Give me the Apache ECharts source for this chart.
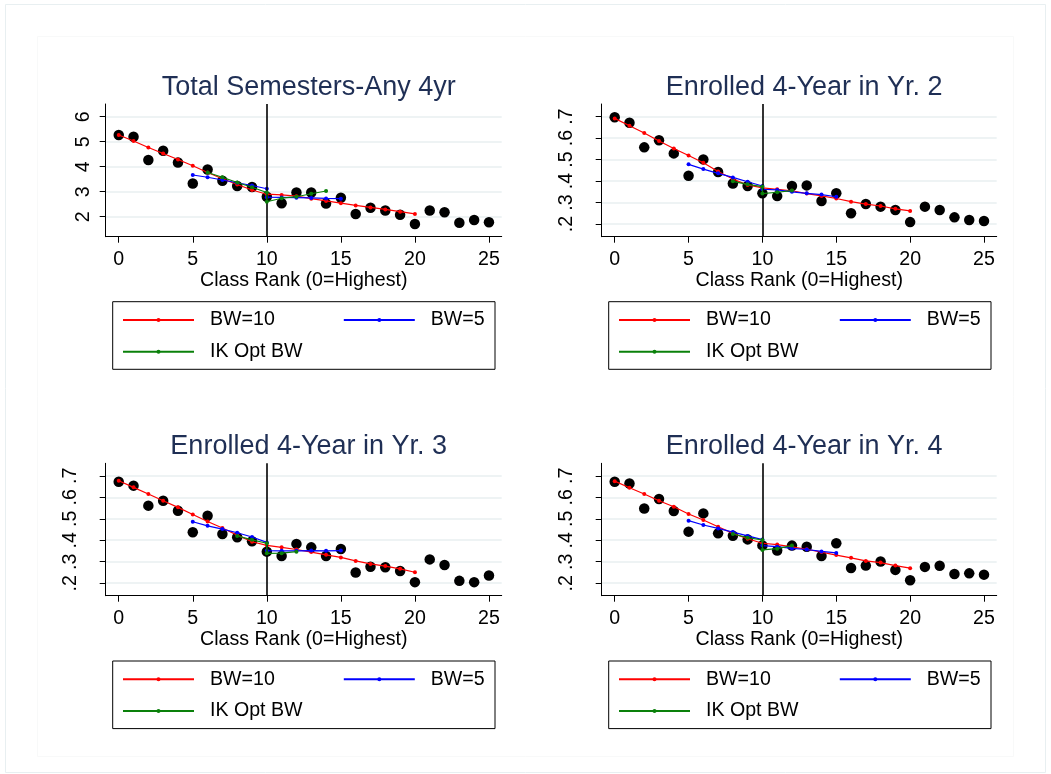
<!DOCTYPE html>
<html>
<head>
<meta charset="utf-8">
<script src="https://cdn.jsdelivr.net/npm/echarts@6/dist/echarts.min.js"></script>
<style>
html,body{margin:0;padding:0;background:#fff;}
#chart{width:1051px;height:774px;}
</style>
</head>
<body>
<div id="chart"></div>
<script>
// ---------- data ----------
const titles = ['Total Semesters-Any 4yr', 'Enrolled 4-Year in Yr. 2', 'Enrolled 4-Year in Yr. 3', 'Enrolled 4-Year in Yr. 4'];
const xAxisTitle = 'Class Rank (0=Highest)';
const xTicks = [0, 5, 10, 15, 20, 25];
const yTicksSem = [2, 3, 4, 5, 6];
const yTicksEnroll = [0.2, 0.3, 0.4, 0.5, 0.6, 0.7];
const cutoff = 10;

const rank = [0,1,2,3,4,5,6,7,8,9,10,11,12,13,14,15,16,17,18,19,20,21,22,23,24,25];
const bw10X = [0,1,2,3,4,5,6,7,8,9,10,11,12,13,14,15,16,17,18,19,20];
const bw5X = [5,6,7,8,9,10,10,11,12,13,14,15];
const ikXSem = [6,7,8,9,10,10,11,12,13,14];
const ikXEnroll = [8,9,10,10,11,12];

// Panel 1: Total Semesters-Any 4yr
const semDots = [5.27,5.2,4.27,4.64,4.17,3.33,3.89,3.44,3.23,3.19,2.8,2.54,2.97,2.97,2.53,2.76,2.11,2.36,2.25,2.08,1.71,2.25,2.18,1.76,1.87,1.78];
const semBW10 = [5.27,5.03,4.77,4.53,4.29,4.04,3.77,3.52,3.29,3.07,2.9,2.87,2.82,2.72,2.63,2.54,2.45,2.37,2.29,2.2,2.11];
const semBW5 = [3.67,3.58,3.47,3.36,3.25,3.12,2.78,2.77,2.76,2.75,2.73,2.72];
const semIK = [3.77,3.58,3.37,3.18,2.97,2.6,2.74,2.8,2.92,3.03];

// Panel 2: Enrolled Yr. 2
const yr2Dots = [0.697,0.672,0.557,0.59,0.529,0.425,0.501,0.442,0.389,0.377,0.343,0.33,0.377,0.38,0.307,0.343,0.25,0.293,0.281,0.265,0.209,0.281,0.265,0.231,0.219,0.214];
const yr2BW10 = [0.692,0.658,0.624,0.587,0.552,0.519,0.485,0.445,0.41,0.382,0.368,0.362,0.355,0.342,0.331,0.319,0.304,0.293,0.284,0.271,0.261];
const yr2BW5 = [0.478,0.456,0.436,0.417,0.397,0.377,0.362,0.359,0.35,0.343,0.337,0.327];
const yr2IK = [0.399,0.385,0.374,0.342,0.348,0.356];

// Panel 3: Enrolled Yr. 3
const yr3Dots = [0.672,0.654,0.561,0.584,0.537,0.437,0.514,0.429,0.414,0.395,0.347,0.327,0.383,0.367,0.327,0.359,0.25,0.277,0.274,0.257,0.205,0.311,0.285,0.211,0.205,0.236];
const yr3BW10 = [0.677,0.646,0.615,0.584,0.553,0.52,0.487,0.457,0.424,0.393,0.376,0.367,0.357,0.345,0.332,0.32,0.304,0.29,0.28,0.267,0.251];
const yr3BW5 = [0.486,0.467,0.452,0.435,0.415,0.39,0.352,0.351,0.351,0.352,0.351,0.352];
const yr3IK = [0.42,0.402,0.386,0.339,0.34,0.347];

// Panel 4: Enrolled Yr. 4
const yr4Dots = [0.672,0.664,0.548,0.592,0.536,0.44,0.525,0.432,0.421,0.404,0.376,0.352,0.375,0.37,0.327,0.386,0.271,0.282,0.301,0.262,0.214,0.276,0.281,0.243,0.246,0.24];
const yr4BW10 = [0.675,0.644,0.615,0.584,0.556,0.522,0.494,0.463,0.432,0.407,0.386,0.38,0.369,0.358,0.345,0.331,0.318,0.304,0.296,0.282,0.27];
const yr4BW5 = [0.491,0.471,0.455,0.438,0.42,0.403,0.375,0.37,0.362,0.357,0.348,0.341];
const yr4IK = [0.429,0.412,0.401,0.355,0.361,0.375];

// ---------- layout ----------
const FONT = 'Liberation Sans, Arial, sans-serif';
const FS = 19.6;
const panels = [
  {title: titles[0], left: 105.7, top: 104,   width: 396, height: 132.7, ymin: 1.2,   ymax: 6.51,  ticks: yTicksSem,    margin: 12, dots: semDots, bw10: semBW10, bw5: semBW5, ikX: ikXSem,    ik: semIK},
  {title: titles[1], left: 601.7, top: 104,   width: 395, height: 132.7, ymin: 0.141, ymax: 0.759, ticks: yTicksEnroll, margin: 25, dots: yr2Dots, bw10: yr2BW10, bw5: yr2BW5, ikX: ikXEnroll, ik: yr2IK},
  {title: titles[2], left: 105.7, top: 463.3, width: 396, height: 132.4, ymin: 0.142, ymax: 0.758, ticks: yTicksEnroll, margin: 25, dots: yr3Dots, bw10: yr3BW10, bw5: yr3BW5, ikX: ikXEnroll, ik: yr3IK},
  {title: titles[3], left: 601.7, top: 463.3, width: 395, height: 132.4, ymin: 0.142, ymax: 0.758, ticks: yTicksEnroll, margin: 25, dots: yr4Dots, bw10: yr4BW10, bw5: yr4BW5, ikX: ikXEnroll, ik: yr4IK}
];

const zip = (xs, ys) => xs.map((x, i) => [x, ys[i]]);
const fmtY = v => (Math.abs(v) < 1 ? v.toFixed(1).replace(/^0\./, '.') : String(v));

const grid = [], xAxis = [], yAxis = [], series = [], title = [], legend = [], graphic = [];

// faint outer frames (graph region)
graphic.push({type: 'rect', shape: {x: 5.5, y: 4.5, width: 1040, height: 768}, style: {fill: null, stroke: '#e8eff1', lineWidth: 1}, silent: true});
graphic.push({type: 'rect', shape: {x: 37.5, y: 36.5, width: 976, height: 720}, style: {fill: null, stroke: '#f8f9f9', lineWidth: 1}, silent: true});

panels.forEach((p, i) => {
  grid.push({left: p.left, top: p.top, width: p.width, height: p.height, containLabel: false});
  xAxis.push({
    type: 'value', gridIndex: i, min: -0.88, max: 25.86,
    name: xAxisTitle, nameLocation: 'middle', nameGap: 28,
    nameTextStyle: {fontFamily: FONT, fontSize: FS, color: '#000'},
    axisLine: {show: true, onZero: false, lineStyle: {color: '#000', width: 1}},
    axisTick: {show: true, inside: false, length: 6, customValues: xTicks, lineStyle: {color: '#000', width: 1}},
    axisLabel: {show: true, margin: 13, customValues: xTicks, fontFamily: FONT, fontSize: FS, color: '#000'},
    splitLine: {show: false}
  });
  yAxis.push({
    type: 'value', gridIndex: i, min: p.ymin, max: p.ymax,
    axisLine: {show: true, onZero: false, lineStyle: {color: '#000', width: 1}},
    axisTick: {show: true, inside: false, length: 6, customValues: p.ticks, lineStyle: {color: '#000', width: 1}},
    axisLabel: {show: true, rotate: 90, margin: p.margin, customValues: p.ticks, formatter: fmtY, fontFamily: FONT, fontSize: FS, color: '#000'},
    splitLine: {show: true, lineStyle: {color: '#e8eff1', width: 1.5}}
  });
  title.push({
    text: p.title, left: p.left + p.width / 2, top: p.top - 35, textAlign: 'center',
    textStyle: {fontFamily: FONT, fontSize: 27, fontWeight: 'normal', color: '#1f2f55'}
  });
  series.push({
    type: 'scatter', name: 'dots' + i, xAxisIndex: i, yAxisIndex: i,
    data: zip(rank, p.dots), symbol: 'circle', symbolSize: 10.5,
    itemStyle: {color: '#000', opacity: 1}, z: 2,
    markLine: {
      silent: true, symbol: ['none', 'none'], label: {show: false},
      lineStyle: {color: '#000', width: 1.6, type: 'solid', opacity: 1},
      data: [{xAxis: cutoff}]
    }
  });
  const lineDefs = [
    {name: 'BW=10', xs: bw10X, ys: p.bw10, color: '#ff0000'},
    {name: 'BW=5', xs: bw5X, ys: p.bw5, color: '#0000ff'},
    {name: 'IK Opt BW', xs: p.ikX, ys: p.ik, color: '#0a800a'}
  ];
  lineDefs.forEach((d, k) => {
    series.push({
      type: 'line', name: d.name, xAxisIndex: i, yAxisIndex: i,
      data: zip(d.xs, d.ys), symbol: 'circle', symbolSize: 4, showSymbol: true,
      lineStyle: {color: d.color, width: 1.2}, itemStyle: {color: d.color, opacity: 1},
      z: 3 + k
    });
  });

  // legend box and rows
  const boxLeft = p.left + 7;
  const boxTop = p.top + 197.7;
  graphic.push({type: 'rect', shape: {x: boxLeft, y: boxTop, width: 382.3, height: 67.6},
    style: {fill: '#fff', stroke: '#000', lineWidth: 1}, silent: true, z: -1});
  const legCommon = {
    orient: 'horizontal', padding: 0, itemWidth: 71, itemHeight: 5, selectedMode: false,
    textStyle: {fontFamily: FONT, fontSize: FS, color: '#000', lineHeight: 22, padding: [0, 0, 0, 11]}
  };
  legend.push(Object.assign({}, legCommon, {data: ['BW=10', 'BW=5'], left: boxLeft + 9.3, top: boxTop + 7.3, itemGap: 68}));
  legend.push(Object.assign({}, legCommon, {data: ['IK Opt BW'], left: boxLeft + 9.3, top: boxTop + 39}));
});

const chart = echarts.init(document.getElementById('chart'), null, {renderer: 'canvas'});
chart.setOption({
  backgroundColor: '#fff',
  animation: false,
  title, grid, xAxis, yAxis, legend, series, graphic
});
</script>
</body>
</html>
